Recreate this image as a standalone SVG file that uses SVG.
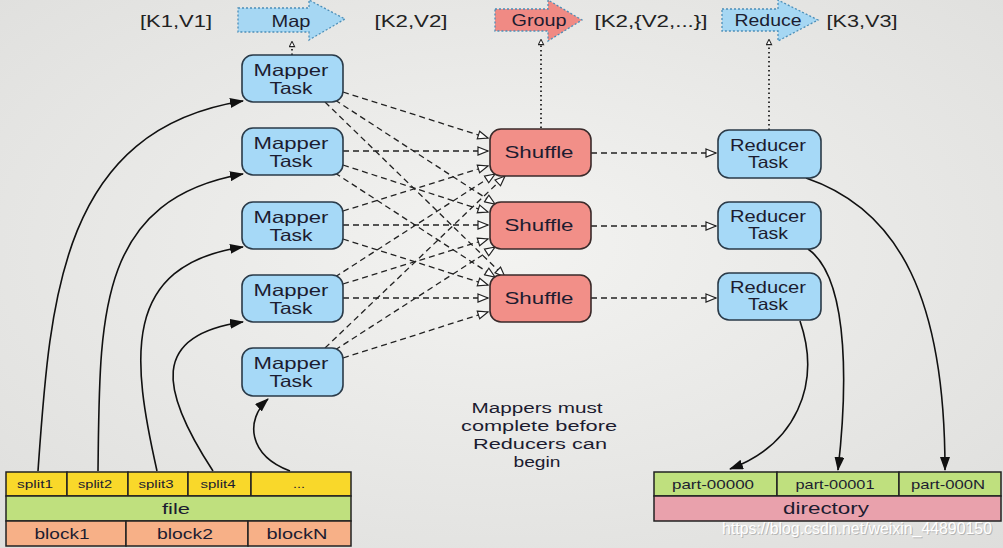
<svg xmlns="http://www.w3.org/2000/svg" width="1003" height="548" viewBox="0 0 1003 548">
<defs>
<radialGradient id="bg" cx="0.5" cy="0.45" r="0.75">
<stop offset="0" stop-color="#f3f3f1"/>
<stop offset="1" stop-color="#dededc"/>
</radialGradient>
<marker id="open" viewBox="0 0 12 10" refX="11" refY="5" markerWidth="12" markerHeight="10" markerUnits="userSpaceOnUse" orient="auto">
<path d="M1,1 L11,5 L1,9 Z" fill="#fff" stroke="#222" stroke-width="1.2"/>
</marker>
<marker id="small" viewBox="0 0 8 8" refX="4" refY="4" markerWidth="7" markerHeight="7" markerUnits="userSpaceOnUse" orient="auto">
<path d="M1,1 L7,4 L1,7 Z" fill="#fff" stroke="#222" stroke-width="1.2"/>
</marker>
<marker id="solid" viewBox="0 0 14 10" refX="13" refY="5" markerWidth="14" markerHeight="10" markerUnits="userSpaceOnUse" orient="auto">
<path d="M0,0 L14,5 L0,10 Z" fill="#111"/>
</marker>
</defs>
<style>
text{font-family:"Liberation Sans",Arial,sans-serif;fill:#1c1c30;text-anchor:middle}
.task{fill:#a6d9f7;stroke:#2a3a48;stroke-width:1.6}
.shuf{fill:#f28f88;stroke:#3a2a2a;stroke-width:1.6}
.bt{font-size:16.5px}
.lbl{font-size:16.5px;fill:#222}
.dash{fill:none;stroke:#222;stroke-width:1.3;stroke-dasharray:6 4;marker-end:url(#open)}
.dot{fill:none;stroke:#222;stroke-width:1.8;stroke-dasharray:1.5 3;marker-end:url(#small)}
.curve{fill:none;stroke:#111;stroke-width:1.6;marker-end:url(#solid)}
.cell{stroke:#222;stroke-width:1.5}
.split{fill:#f9d82a}
.file{fill:#bfe07e}
.block{fill:#f7b087}
.dir{fill:#e9a1ac}
.st{font-size:11px}
.ft{font-size:15.5px}
.pt{font-size:13px}
.nt{font-size:15.5px}
.wm{font-size:16px}
.arrowb{fill:#a6d7f3;stroke:#4d8fb8;stroke-width:1.3;stroke-dasharray:2 2}
.arrowr{fill:#f08a84;stroke:#4d8fb8;stroke-width:1.3;stroke-dasharray:2 2}
</style>
<rect x="0" y="0" width="1003" height="548" fill="url(#bg)"/>

<g id="map-arrow">
<path class="arrowb" d="M238,8 L309,8 L309,0 L345,19 L309,40 L309,32 L238,32 Z"/>
<text class="bt" x="291" y="27" textLength="39" lengthAdjust="spacingAndGlyphs">Map</text>
</g>
<g id="group-arrow">
<path class="arrowr" d="M495,9 L548,9 L548,0 L582,20 L548,41 L548,31 L495,31 Z"/>
<text class="bt" x="539" y="26" textLength="55" lengthAdjust="spacingAndGlyphs">Group</text>
</g>
<g id="reduce-arrow">
<path class="arrowb" d="M722,9 L778,9 L778,0 L818,20 L778,41 L778,31 L722,31 Z"/>
<text class="bt" x="768" y="26" textLength="67" lengthAdjust="spacingAndGlyphs">Reduce</text>
</g>
<g id="labels">
<text class="lbl" x="176" y="27" textLength="72" lengthAdjust="spacingAndGlyphs">[K1,V1]</text>
<text class="lbl" x="411" y="27" textLength="73" lengthAdjust="spacingAndGlyphs">[K2,V2]</text>
<text class="lbl" x="651" y="27" textLength="113" lengthAdjust="spacingAndGlyphs">[K2,{V2,...}]</text>
<text class="lbl" x="862" y="27" textLength="71" lengthAdjust="spacingAndGlyphs">[K3,V3]</text>
</g>

<g id="connectors">
<path class="dot" d="M292,55 L292,44"/>
<path class="dot" d="M541,128 L541,42"/>
<path class="dot" d="M769,130 L769,42"/>
<path class="dash" d="M343,92 L488,138"/>
<path class="dash" d="M335,100 L495,204"/>
<path class="dash" d="M325,102 L505,277"/>
<path class="dash" d="M343,151 L488,151"/>
<path class="dash" d="M343,165 L488,212"/>
<path class="dash" d="M335,173 L495,277"/>
<path class="dash" d="M343,211 L488,166"/>
<path class="dash" d="M343,225 L488,225"/>
<path class="dash" d="M343,239 L488,285"/>
<path class="dash" d="M335,277 L495,174"/>
<path class="dash" d="M343,284 L488,239"/>
<path class="dash" d="M343,298 L488,298"/>
<path class="dash" d="M325,348 L505,176"/>
<path class="dash" d="M335,350 L495,247"/>
<path class="dash" d="M343,358 L488,312"/>
<path class="dash" d="M591,153 L716,153"/>
<path class="dash" d="M591,226 L716,226"/>
<path class="dash" d="M591,298 L716,298"/>
<path class="curve" d="M38,471 C50,300 60,130 243,101"/>
<path class="curve" d="M98,471 C100,320 95,200 243,174"/>
<path class="curve" d="M157,471 C132,360 120,265 243,247"/>
<path class="curve" d="M213,471 C160,390 150,335 243,322"/>
<path class="curve" d="M290,471 C248,455 245,420 268,399"/>
<path class="curve" d="M806,178 C900,210 945,300 945,470"/>
<path class="curve" d="M808,249 C852,280 846,400 838,470"/>
<path class="curve" d="M800,321 C822,385 795,445 730,469"/>
</g>

<g id="mapper1"><rect class="task" x="242" y="55" width="101" height="47" rx="11"/><text class="bt" x="291" y="76" textLength="75" lengthAdjust="spacingAndGlyphs">Mapper</text><text class="bt" x="291" y="94" textLength="43" lengthAdjust="spacingAndGlyphs">Task</text></g>
<g id="mapper2"><rect class="task" x="242" y="128" width="101" height="47" rx="11"/><text class="bt" x="291" y="149" textLength="75" lengthAdjust="spacingAndGlyphs">Mapper</text><text class="bt" x="291" y="167" textLength="43" lengthAdjust="spacingAndGlyphs">Task</text></g>
<g id="mapper3"><rect class="task" x="242" y="202" width="101" height="47" rx="11"/><text class="bt" x="291" y="223" textLength="75" lengthAdjust="spacingAndGlyphs">Mapper</text><text class="bt" x="291" y="241" textLength="43" lengthAdjust="spacingAndGlyphs">Task</text></g>
<g id="mapper4"><rect class="task" x="242" y="275" width="101" height="47" rx="11"/><text class="bt" x="291" y="296" textLength="75" lengthAdjust="spacingAndGlyphs">Mapper</text><text class="bt" x="291" y="314" textLength="43" lengthAdjust="spacingAndGlyphs">Task</text></g>
<g id="mapper5"><rect class="task" x="242" y="348" width="101" height="48" rx="11"/><text class="bt" x="291" y="369" textLength="75" lengthAdjust="spacingAndGlyphs">Mapper</text><text class="bt" x="291" y="387" textLength="43" lengthAdjust="spacingAndGlyphs">Task</text></g>

<g id="shuffle1"><rect class="shuf" x="490" y="129" width="101" height="47" rx="11"/><text class="bt" x="539" y="158" textLength="69" lengthAdjust="spacingAndGlyphs">Shuffle</text></g>
<g id="shuffle2"><rect class="shuf" x="490" y="202" width="101" height="47" rx="11"/><text class="bt" x="539" y="231" textLength="69" lengthAdjust="spacingAndGlyphs">Shuffle</text></g>
<g id="shuffle3"><rect class="shuf" x="490" y="275" width="101" height="47" rx="11"/><text class="bt" x="539" y="304" textLength="69" lengthAdjust="spacingAndGlyphs">Shuffle</text></g>

<g id="reducer1"><rect class="task" x="718" y="130" width="103" height="48" rx="11"/><text class="bt" x="768" y="151" textLength="76" lengthAdjust="spacingAndGlyphs">Reducer</text><text class="bt" x="768" y="168" textLength="40" lengthAdjust="spacingAndGlyphs">Task</text></g>
<g id="reducer2"><rect class="task" x="718" y="202" width="103" height="47" rx="11"/><text class="bt" x="768" y="222" textLength="76" lengthAdjust="spacingAndGlyphs">Reducer</text><text class="bt" x="768" y="239" textLength="40" lengthAdjust="spacingAndGlyphs">Task</text></g>
<g id="reducer3"><rect class="task" x="718" y="273" width="103" height="47" rx="11"/><text class="bt" x="768" y="293" textLength="76" lengthAdjust="spacingAndGlyphs">Reducer</text><text class="bt" x="768" y="310" textLength="40" lengthAdjust="spacingAndGlyphs">Task</text></g>

<g id="note">
<text class="nt" x="537" y="413" textLength="131" lengthAdjust="spacingAndGlyphs">Mappers must</text>
<text class="nt" x="539" y="431" textLength="156" lengthAdjust="spacingAndGlyphs">complete before</text>
<text class="nt" x="540" y="449" textLength="134" lengthAdjust="spacingAndGlyphs">Reducers can</text>
<text class="nt" x="537" y="467" textLength="47" lengthAdjust="spacingAndGlyphs">begin</text>
</g>

<g id="file-table">
<rect class="cell split" x="6" y="472" width="61" height="24"/>
<rect class="cell split" x="67" y="472" width="61" height="24"/>
<rect class="cell split" x="128" y="472" width="60" height="24"/>
<rect class="cell split" x="188" y="472" width="63" height="24"/>
<rect class="cell split" x="251" y="472" width="100" height="24"/>
<text class="st" x="35" y="488" textLength="36" lengthAdjust="spacingAndGlyphs">split1</text>
<text class="st" x="95" y="488" textLength="34" lengthAdjust="spacingAndGlyphs">split2</text>
<text class="st" x="156" y="488" textLength="35" lengthAdjust="spacingAndGlyphs">split3</text>
<text class="st" x="218" y="488" textLength="35" lengthAdjust="spacingAndGlyphs">split4</text>
<text class="st" x="299" y="488" textLength="12" lengthAdjust="spacingAndGlyphs">...</text>
<rect class="cell file" x="6" y="496" width="345" height="25"/>
<text class="ft" x="176" y="514" textLength="28" lengthAdjust="spacingAndGlyphs">file</text>
<rect class="cell block" x="6" y="521" width="120" height="25"/>
<rect class="cell block" x="126" y="521" width="122" height="25"/>
<rect class="cell block" x="248" y="521" width="103" height="25"/>
<text class="ft" x="62" y="539" textLength="55" lengthAdjust="spacingAndGlyphs">block1</text>
<text class="ft" x="185" y="539" textLength="56" lengthAdjust="spacingAndGlyphs">block2</text>
<text class="ft" x="297" y="539" textLength="61" lengthAdjust="spacingAndGlyphs">blockN</text>
</g>

<g id="directory-table">
<rect class="cell file" x="654" y="472" width="123" height="24"/>
<rect class="cell file" x="777" y="472" width="122" height="24"/>
<rect class="cell file" x="899" y="472" width="102" height="24"/>
<text class="pt" x="713" y="489" textLength="82" lengthAdjust="spacingAndGlyphs">part-00000</text>
<text class="pt" x="835" y="489" textLength="79" lengthAdjust="spacingAndGlyphs">part-00001</text>
<text class="pt" x="948" y="489" textLength="74" lengthAdjust="spacingAndGlyphs">part-000N</text>
<rect class="cell dir" x="654" y="496" width="347" height="25"/>
<text style="font-size:16px" x="826" y="514" textLength="86" lengthAdjust="spacingAndGlyphs">directory</text>
</g>

<g id="watermark">
<text class="wm" x="858" y="535" textLength="270" lengthAdjust="spacingAndGlyphs" style="fill:#9a9a9a;opacity:0.6">https://blog.csdn.net/weixin_44890150</text>
<text class="wm" x="857" y="534" textLength="270" lengthAdjust="spacingAndGlyphs" style="fill:#ffffff">https://blog.csdn.net/weixin_44890150</text>
</g>
</svg>
